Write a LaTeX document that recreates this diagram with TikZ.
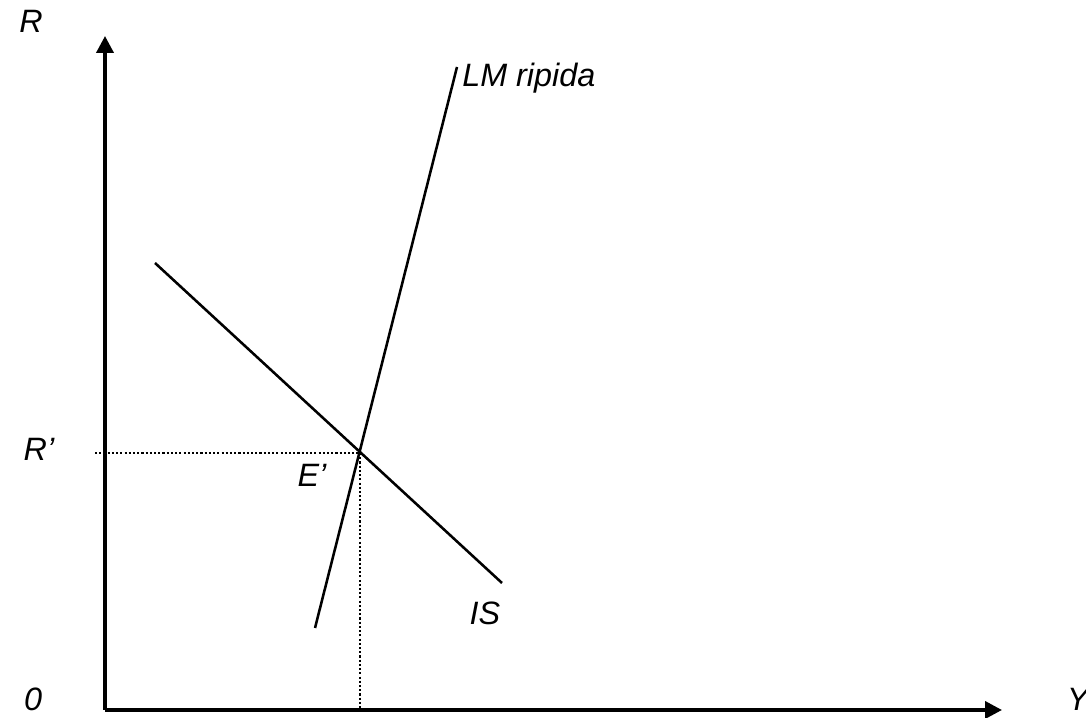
\documentclass[tikz,border=0pt]{standalone}
\usepackage{fontspec}
\setmainfont{Liberation Sans}
\usetikzlibrary{arrows.meta}

\begin{document}
\begin{tikzpicture}[
  >={Triangle[length=0.34cm,width=0.34cm]},
  axis/.style={line width=2.1pt},
  curve/.style={line width=1.45pt},
  guide/.style={line width=1.3pt, dash pattern=on 1.2pt off 1.2pt},
  lab/.style={inner sep=0pt, font=\fontsize{18.4}{22}\selectfont\itshape}
]
  \useasboundingbox (-2.1,-0.16) rectangle (19.62,14.2);

  \coordinate (O) at (0,0);
  \coordinate (E) at (5.1,5.14);

  % Axes
  \draw[axis,->] (O) -- (0,13.48);
  \draw[axis,->] (O) -- (17.94,0);

  % IS and steep LM
  \coordinate (ISa) at (1.0,8.94);
  \coordinate (ISb) at (7.94,2.54);
  \draw[curve] (ISa) -- (ISb);
  \coordinate (LMa) at (4.2,1.64);
  \coordinate (LMb) at (7.04,12.86);
  \draw[curve] (LMa) -- (LMb);

  % Equilibrium guides
  \draw[guide] (-0.2,5.14) -- (E);
  \draw[guide] (E) -- (5.1,0);

  % Labels
  \node[lab] (labR) at (-1.48,13.78) {R};
  \node[lab] (labZero) at (-1.44,0.22) {0};
  \node[lab] (labY) at (19.46,0.22) {Y};
  \node[lab] (labRp) at (-1.32,5.22) {R’};
  \node[lab] (labE) at (4.14,4.7) {E’};
  \node[lab] (labIS) at (7.6,1.94) {IS};
  \node[lab, anchor=base west] (labLM) at (7.14,12.46) {LM ripida};
\end{tikzpicture}
\end{document}
